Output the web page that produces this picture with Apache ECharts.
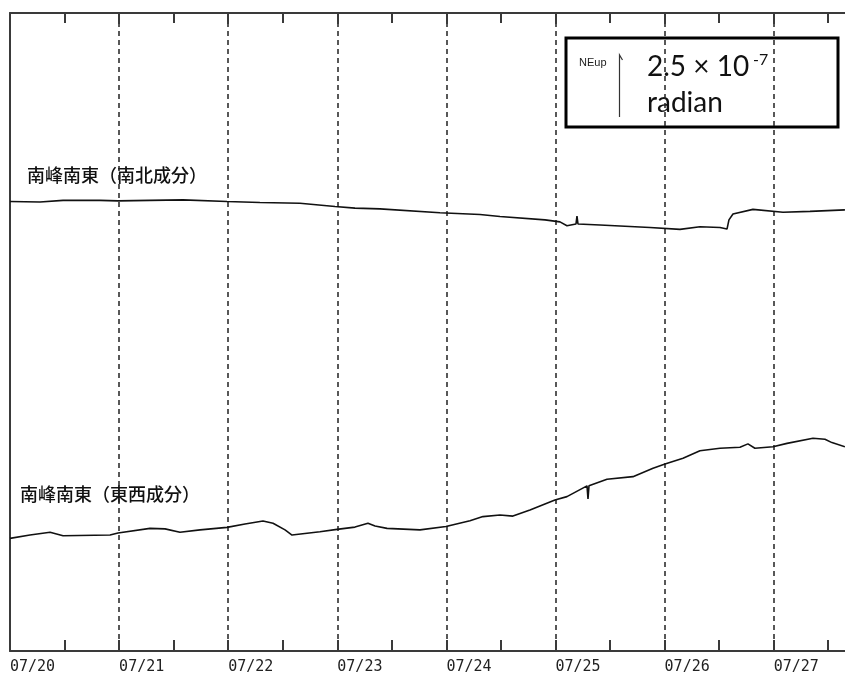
<!DOCTYPE html>
<html>
<head>
<meta charset="utf-8">
<script src="https://cdn.jsdelivr.net/npm/echarts@6/dist/echarts.min.js"></script>
<style>
  html, body { margin: 0; padding: 0; background: #fff; overflow: hidden; }
  #chartContainer { width: 845px; height: 675px; }
</style>
</head>
<body>
<div id="chartContainer"></div>
<script>
// days since 07/20 00:00
var TICK_LABELS = ['07/20', '07/21', '07/22', '07/23', '07/24', '07/25', '07/26', '07/27'];
// the plotted record runs on past the right edge of the picture
var DAY_MAX = 7.837;

// tilt, unit 1e-7 radian (relative offset)
var NS_TILT = [
  [0.000, 17.56], [0.275, 17.54], [0.486, 17.60], [0.825, 17.60], [0.990, 17.58],
  [1.283, 17.60], [1.586, 17.62], [1.989, 17.56], [2.291, 17.52], [2.658, 17.49],
  [2.979, 17.36], [3.162, 17.30], [3.391, 17.27], [3.941, 17.12], [4.308, 17.05],
  [4.491, 16.97], [4.904, 16.84], [5.041, 16.76], [5.105, 16.61], [5.188, 16.68],
  [5.197, 16.99], [5.206, 16.68], [5.408, 16.64], [5.866, 16.54], [6.141, 16.47],
  [6.324, 16.57], [6.508, 16.54], [6.572, 16.48], [6.590, 16.84], [6.627, 17.07],
  [6.810, 17.25], [7.085, 17.14], [7.333, 17.17], [7.653, 17.23]
];

var EW_TILT = [
  [0.000, 4.40], [0.183, 4.53], [0.367, 4.64], [0.486, 4.50], [0.917, 4.53],
  [0.990, 4.61], [1.283, 4.79], [1.421, 4.77], [1.558, 4.64], [1.742, 4.73],
  [1.989, 4.83], [2.154, 4.96], [2.319, 5.08], [2.411, 4.99], [2.521, 4.73],
  [2.585, 4.53], [2.841, 4.66], [2.997, 4.75], [3.162, 4.84], [3.281, 4.99],
  [3.346, 4.88], [3.456, 4.79], [3.758, 4.73], [3.996, 4.86], [4.216, 5.09],
  [4.335, 5.25], [4.491, 5.31], [4.610, 5.27], [4.766, 5.51], [4.995, 5.90],
  [5.105, 6.03], [5.289, 6.45], [5.298, 5.94], [5.307, 6.45], [5.472, 6.71],
  [5.710, 6.81], [5.894, 7.14], [6.004, 7.30], [6.169, 7.53], [6.324, 7.82],
  [6.508, 7.92], [6.691, 7.96], [6.764, 8.09], [6.828, 7.92], [6.994, 7.98],
  [7.122, 8.11], [7.360, 8.31], [7.470, 8.27], [7.534, 8.14], [7.653, 7.98]
];

var SERIES_NAMES = ['南峰南東（南北成分）', '南峰南東（東西成分）'];

var AXIS_COLOR = '#3a3a3a';

var CHART;
var CHART_OPTION = {
  animation: false,
  backgroundColor: '#ffffff',
  grid: { left: 10, top: 13, right: -20, bottom: 24, containLabel: false, outerBoundsMode: 'none' },
  xAxis: [
    {
      type: 'value',
      position: 'bottom',
      min: 0,
      max: DAY_MAX,
      interval: 1,
      axisLine: { show: true, lineStyle: { color: AXIS_COLOR, width: 2 } },
      axisTick: { show: true, inside: true, length: 11, lineStyle: { color: AXIS_COLOR, width: 2 } },
      minorTick: { show: true, splitNumber: 2, length: 11, lineStyle: { color: AXIS_COLOR, width: 2 } },
      axisLabel: {
        show: true,
        align: 'left',
        margin: 9,
        color: '#222',
        fontFamily: 'DejaVu Sans Mono',
        fontSize: 15,
        formatter: (value) => {
          if (Math.abs(value - Math.round(value)) > 1e-6) return '';
          return TICK_LABELS[Math.round(value)] || '';
        }
      },
      splitLine: { show: true, showMinLine: false, showMaxLine: false, lineStyle: { color: '#222', width: 1.5, type: [5, 4] } }
    },
    {
      type: 'value',
      position: 'top',
      min: 0,
      max: DAY_MAX,
      interval: 1,
      axisLine: { show: true, onZero: false, lineStyle: { color: AXIS_COLOR, width: 2 } },
      axisTick: { show: true, inside: true, length: 11, lineStyle: { color: AXIS_COLOR, width: 2 } },
      minorTick: { show: true, splitNumber: 2, length: 10, lineStyle: { color: AXIS_COLOR, width: 2 } },
      axisLabel: { show: false },
      splitLine: { show: false }
    }
  ],
  yAxis: {
    type: 'value',
    min: 0,
    max: 24.92,
    axisLine: { show: true, onZero: false, lineStyle: { color: AXIS_COLOR, width: 2 } },
    axisTick: { show: false },
    axisLabel: { show: false },
    splitLine: { show: false }
  },
  series: [
    {
      name: SERIES_NAMES[0],
      type: 'line',
      xAxisIndex: 0,
      data: NS_TILT,
      showSymbol: false,
      lineStyle: { color: '#111', width: 1.6 }
    },
    {
      name: SERIES_NAMES[1],
      type: 'line',
      xAxisIndex: 0,
      data: EW_TILT,
      showSymbol: false,
      lineStyle: { color: '#111', width: 1.6 }
    }
  ],
  graphic: [
    {
      type: 'text', x: 27, y: 175.5,
      style: { text: SERIES_NAMES[0], fill: '#111', font: '500 18px "Noto Sans CJK JP"', verticalAlign: 'middle' }
    },
    {
      type: 'text', x: 20, y: 494,
      style: { text: SERIES_NAMES[1], fill: '#111', font: '500 18px "Noto Sans CJK JP"', verticalAlign: 'middle' }
    },
    // scale box
    {
      type: 'rect',
      shape: { x: 566, y: 38, width: 272, height: 89 },
      style: { fill: '#fff', stroke: '#000', lineWidth: 3 }
    },
    {
      type: 'text', x: 579, y: 63,
      style: { text: 'NEup', fill: '#222', font: '11px "Liberation Sans"', verticalAlign: 'middle' }
    },
    {
      type: 'polyline',
      shape: { points: [[622.5, 60], [619.5, 55], [619.5, 117]] },
      style: { stroke: '#333', lineWidth: 1.2, fill: null }
    },
    {
      type: 'text', x: 647, y: 67,
      style: { text: '2.5 × 10', fill: '#111', font: '28px Lato', verticalAlign: 'middle' }
    },
    {
      type: 'text', x: 753, y: 60,
      style: { text: '-7', fill: '#111', font: '16px Lato', verticalAlign: 'middle' }
    },
    {
      type: 'text', x: 647, y: 103,
      style: { text: 'radian', fill: '#111', font: '28px Lato', verticalAlign: 'middle' }
    }
  ]
};

window.onload = _ => {
  CHART = echarts.init(document.getElementById('chartContainer'), null, { renderer: 'canvas' });
  CHART.setOption(CHART_OPTION);
};
</script>
</body>
</html>
